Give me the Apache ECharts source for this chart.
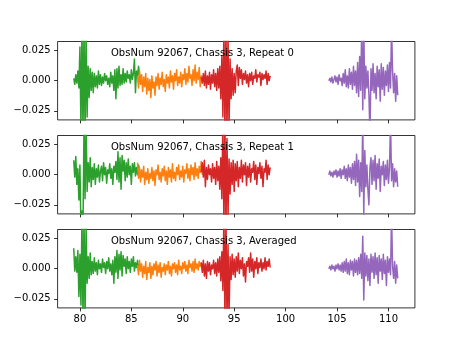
<!DOCTYPE html>
<html>
<head>
<meta charset="utf-8">
<script src="https://cdn.jsdelivr.net/npm/echarts@6/dist/echarts.min.js"></script>
<style>
html,body{margin:0;padding:0;background:#fff;}
#chart{width:461px;height:346px;}
</style>
</head>
<body>
<div id="chart"></div>
<script>
// Sample grid: each segment starts at its x value, samples every 0.1 (x units).
const segStart = { green: 79.4, orange: 85.6, red: 91.8, purple: 104.2 };
const segStep = 0.1;
// Values below are in units of 1e-3 (scaled when building series).

// Panel 1: Repeat 0
const p1Green = [2,-3,5,-2,8,-6,28,-40,45,-45,45,-45,40,-30,12,-14,10,-8,7,-10,6,-5,4,-6,8,-3,5,-4,3,-2,6,0,4,-3,2,-5,7,-2,4,-8,9,-15,10,-6,12,-4,5,-3,10,-2,6,-1,8,2,5,-2,9,1,6,18,-10,8,3,12,4];
const p1Orange = [4,-6,8,-3,5,-9,3,-5,6,-11,2,-8,1,-14,4,-6,-1,-12,3,-4,6,-7,2,-3,7,-5,1,-9,5,-2,3,-6,8,-1,4,-7,6,0,9,-4,3,-2,7,-5,5,1,10,-3,6,-1,12,2,5,-4,9,0,13,-2,7,1,11,-5,4,2];
const p1Red = [3,-2,6,-4,8,-6,4,-3,7,-7,5,-2,9,-5,6,-8,10,-6,12,-15,20,-30,45,-45,45,-45,40,-40,18,-15,10,-12,6,-10,8,13,-4,11,2,9,-3,6,1,8,-2,5,-5,6,0,7,-3,4,2,9,-1,5,3,7,-4,6,1,5,2,8,-3,6,0,4];
const p1Purple = [0,2,-1,3,-2,1,4,-1,3,-3,5,0,2,-4,6,-2,9,-5,4,-6,10,-3,7,-7,12,-4,8,-10,15,-13,20,-8,45,-24,45,-15,12,-6,8,-12,-45,10,-8,14,-10,6,-15,12,-5,9,-17,14,-7,11,-12,8,-4,13,-9,15,-6,45,8,-10,6,-17,4,-12];

// Panel 2: Repeat 1
const p2Green = [12,-2,15,-8,5,-21,8,-45,-30,-45,45,-20,45,-14,10,-6,14,-10,6,-4,9,-8,5,-2,8,-6,3,7,-5,10,0,6,-7,4,1,9,-3,5,-8,7,2,11,-4,19,-6,14,-12,16,3,12,-5,10,-2,13,0,7,-8,9,2,10,-1,6,0,8,3];
const p2Orange = [10,-3,6,-6,4,-2,7,-8,2,-4,5,-7,1,-3,6,-5,3,-9,4,0,8,-4,2,-6,5,-1,7,-5,3,-8,6,-2,4,-6,9,-3,2,-5,6,0,8,-4,3,-2,7,-6,4,1,9,-3,5,-5,8,0,6,-4,10,-1,5,-3,7,2,11,0];
const p2Red = [2,10,-2,12,-10,6,-4,8,0,5,-6,9,-3,6,-8,11,-5,7,-12,14,-20,45,-45,45,-45,30,-35,13,-16,10,-8,12,-14,9,-5,11,-10,6,-3,12,-6,8,0,10,-9,7,-2,9,-6,5,2,11,-4,8,-8,6,1,10,-3,7,-10,5,2,12,-4,8,0,6];
const p2Purple = [0,3,-1,2,-2,3,0,4,-2,3,-1,5,-3,4,0,7,-3,5,-5,8,-2,6,-7,9,-4,11,-9,17,-6,12,-18,10,-14,45,-33,20,-10,8,-12,-25,6,14,-8,12,-5,16,-12,9,-3,13,-14,7,0,11,-9,8,-4,12,-7,6,45,-5,9,-10,5,-6,3,-10];

// Panel 3: Averaged
const p3Green = [17,-2,10,-3,15,-23,12,-30,45,-45,45,-45,35,-12,10,-8,13,-5,6,-4,9,-2,5,-5,7,0,4,-3,8,1,5,-4,6,0,9,-2,4,-5,7,-12,10,-3,15,-8,12,-1,14,-6,11,2,8,-4,10,0,6,-3,8,2,10,-2,5,1,7,-1,4];
const p3Orange = [3,-5,7,-2,4,-7,2,-4,6,-9,1,-3,5,-8,2,-5,4,-1,6,-6,3,-3,5,-7,1,-2,4,-5,3,-1,6,-4,2,-6,4,0,5,-3,3,-5,7,-1,2,-4,5,0,6,-2,3,-4,7,1,4,-2,6,-3,8,0,4,-1,6,2,5,0];
const p3Red = [5,-3,7,-6,4,-8,6,-2,5,-5,3,0,7,-4,5,-6,8,-3,10,-10,14,-18,45,-45,45,-45,20,-40,10,-9,12,-5,8,-7,10,-2,13,-4,7,0,9,-6,4,-11,6,2,9,-3,13,-2,8,-7,6,0,9,-4,5,1,8,-2,5,0,9,-1,6,2,8,1];
const p3Purple = [0,2,-1,3,0,2,-2,3,0,4,-1,3,-2,5,-3,6,-2,8,-4,5,-5,7,-1,6,-6,8,-3,7,-5,9,-4,12,-8,27,-26,13,-6,11,-10,8,-14,12,-3,10,-8,13,-5,9,-12,11,-2,8,-9,12,-4,7,-14,10,-3,8,-5,45,2,-8,6,-12,3,-8];

const panelTitles = [
  'ObsNum 92067, Chassis 3, Repeat 0',
  'ObsNum 92067, Chassis 3, Repeat 1',
  'ObsNum 92067, Chassis 3, Averaged'
];
const xTicks = [80, 85, 90, 95, 100, 105, 110];
const yTicks = [-0.025, 0, 0.025];
const xRange = [77.83, 112.57];
const yRange = [-0.0325, 0.0325];

const panels = [
  { green: p1Green, orange: p1Orange, red: p1Red, purple: p1Purple },
  { green: p2Green, orange: p2Orange, red: p2Red, purple: p2Purple },
  { green: p3Green, orange: p3Orange, red: p3Red, purple: p3Purple }
];
const colors = { green: '#2ca02c', orange: '#ff7f0e', red: '#d62728', purple: '#9467bd' };

function toData(arr, start) {
  return arr.map((v, i) => [+(start + i * segStep).toFixed(2), v / 1000]);
}

const FONT = 'DejaVu Sans';
const gridLeft = 57.6, gridWidth = 357.3, gridHeight = 78.4;
const gridTops = [41.5, 135.5, 229.5];

const grids = [], xAxes = [], yAxes = [], series = [], graphics = [];
gridTops.forEach((top, k) => {
  grids.push({
    left: gridLeft, top: top, width: gridWidth, height: gridHeight,
    show: true, borderColor: '#000', borderWidth: 0.8, backgroundColor: '#fff',
    containLabel: false
  });
  xAxes.push({
    type: 'value', gridIndex: k, min: xRange[0], max: xRange[1],
    splitLine: { show: false },
    axisLine: { show: false, onZero: false },
    axisTick: { show: true, inside: false, length: 3.5, customValues: xTicks,
      lineStyle: { color: '#000', width: 0.8 } },
    axisLabel: { show: k === 2, customValues: xTicks, margin: 7, color: '#000',
      fontSize: 10, fontFamily: FONT, formatter: v => String(v) }
  });
  yAxes.push({
    type: 'value', gridIndex: k, min: yRange[0], max: yRange[1],
    splitLine: { show: false },
    axisLine: { show: false, onZero: false },
    axisTick: { show: true, inside: false, length: 3.5, customValues: yTicks,
      lineStyle: { color: '#000', width: 0.8 } },
    axisLabel: { show: true, customValues: yTicks, margin: 7, color: '#000',
      fontSize: 10, fontFamily: FONT,
      formatter: v => (v < 0 ? '\u2212' : '') + Math.abs(v).toFixed(3) }
  });
  ['green', 'orange', 'red', 'purple'].forEach(name => {
    series.push({
      type: 'line', xAxisIndex: k, yAxisIndex: k,
      data: toData(panels[k][name], segStart[name]),
      showSymbol: false, symbol: 'none', clip: true,
      lineStyle: { color: colors[name], width: 1.5, join: 'round' },
      itemStyle: { color: colors[name] },
      z: 2
    });
  });
  graphics.push({
    type: 'text', x: 111, y: top + 12.3, z: 100,
    style: { text: panelTitles[k], fill: '#000', fontSize: 10, fontFamily: FONT,
      align: 'left', verticalAlign: 'middle' }
  });
});

const chart = echarts.init(document.getElementById('chart'), null, { renderer: 'canvas' });
chart.setOption({
  backgroundColor: '#fff',
  animation: false,
  grid: grids,
  xAxis: xAxes,
  yAxis: yAxes,
  series: series,
  graphic: graphics
});
</script>
</body>
</html>
